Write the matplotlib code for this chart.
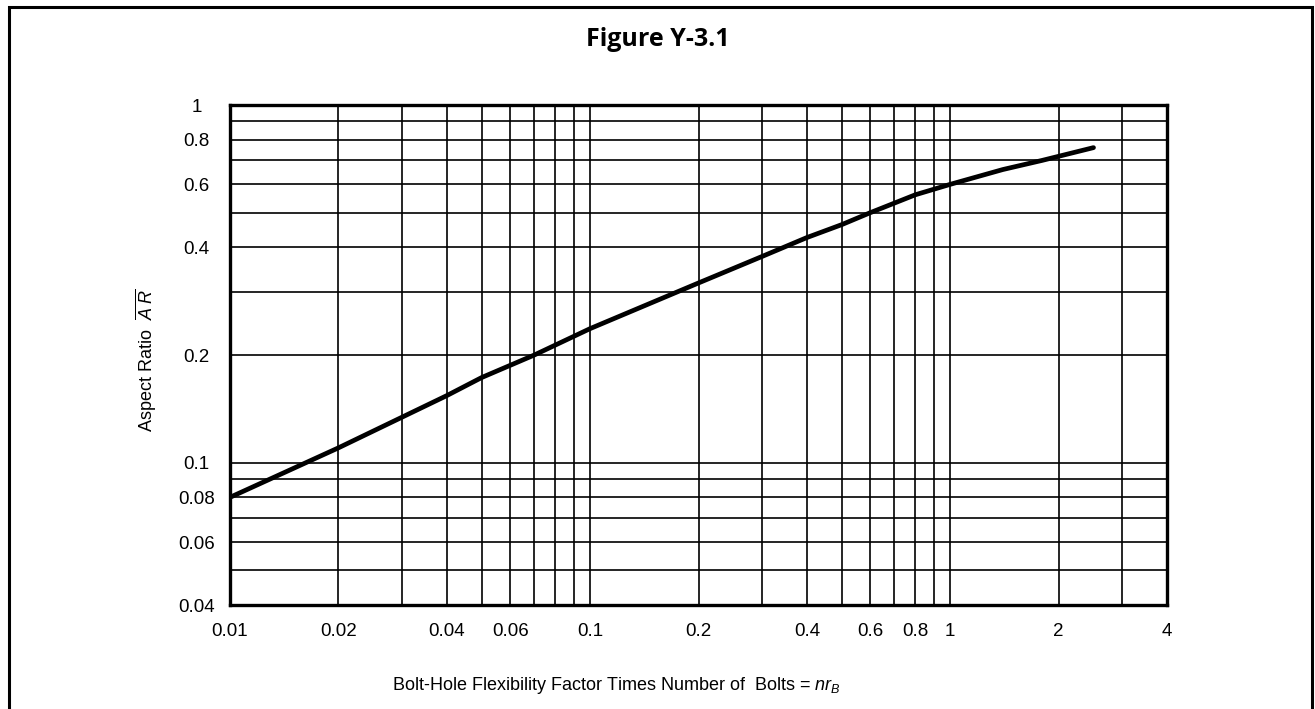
import matplotlib.pyplot as plt
from matplotlib.ticker import LogLocator, FixedLocator, NullFormatter
from matplotlib.patches import Rectangle

# curve
nr_b = [0.01, 0.02, 0.04, 0.05, 0.07, 0.1, 0.2, 0.3, 0.4, 0.5, 0.6, 0.8, 1.0, 1.4, 1.8, 2.5]
ar = [0.08, 0.11, 0.154, 0.173, 0.2, 0.237, 0.318, 0.377, 0.426, 0.463, 0.5, 0.561, 0.6, 0.66, 0.7, 0.76]

xticks = [0.01, 0.02, 0.04, 0.06, 0.1, 0.2, 0.4, 0.6, 0.8, 1, 2, 4]
xtick_labels = ["0.01", "0.02", "0.04", "0.06", "0.1", "0.2", "0.4", "0.6", "0.8", "1", "2", "4"]
yticks = [0.04, 0.06, 0.08, 0.1, 0.2, 0.4, 0.6, 0.8, 1]
ytick_labels = ["0.04", "0.06", "0.08", "0.1", "0.2", "0.4", "0.6", "0.8", "1"]

plt.rcParams['font.family'] = ['Liberation Sans', 'DejaVu Sans']
plt.rcParams['mathtext.fontset'] = 'custom'
plt.rcParams['mathtext.it'] = 'Liberation Sans:italic'
plt.rcParams['mathtext.rm'] = 'Liberation Sans'

fig = plt.figure(figsize=(13.15, 7.09), dpi=100)
ax = fig.add_axes([230/1315, 1 - 605/709, 937/1315, 500/709])

ax.set_xscale('log')
ax.set_yscale('log')
ax.set_xlim(0.01, 4)
ax.set_ylim(0.04, 1)

# grid on every 1..9 subdivision
ax.xaxis.set_minor_locator(LogLocator(base=10, subs=range(1, 10), numticks=20))
ax.yaxis.set_minor_locator(LogLocator(base=10, subs=range(1, 10), numticks=20))
ax.xaxis.set_minor_formatter(NullFormatter())
ax.yaxis.set_minor_formatter(NullFormatter())
ax.grid(True, which='both', color='black', linewidth=1.2)

ax.xaxis.set_major_locator(FixedLocator(xticks))
ax.set_xticklabels(xtick_labels)
ax.yaxis.set_major_locator(FixedLocator(yticks))
ax.set_yticklabels(ytick_labels, ha='center')
ax.tick_params(which='both', length=0)
ax.tick_params(axis='x', pad=13, labelsize=13.5)
ax.tick_params(axis='y', pad=24, labelsize=13.5)

for s in ax.spines.values():
    s.set_linewidth(2.4)

ax.plot(nr_b, ar, color='black', linewidth=3.4, solid_capstyle='round', zorder=5)

fig.text(616/1315, 1 - 686/709, r'Bolt-Hole Flexibility Factor Times Number of  Bolts = $nr_B$',
         ha='center', va='center', fontsize=13)
fig.text(146/1315, 1 - 360/709, r'Aspect Ratio  $\overline{A\;R}$', rotation=90,
         ha='center', va='center', fontsize=13)
fig.text(0.5, 1 - 40/709, 'Figure Y-3.1', ha='center', va='center',
         fontsize=18, fontweight='bold', family=['Open Sans', 'DejaVu Sans'])

# frame around the figure
fig.patches.append(Rectangle((9/1315, -0.05), (1312 - 9)/1315, 1.05 - 7/709,
                             transform=fig.transFigure, fill=False,
                             edgecolor='black', linewidth=2.2))

fig.savefig('out.png', dpi=100)
